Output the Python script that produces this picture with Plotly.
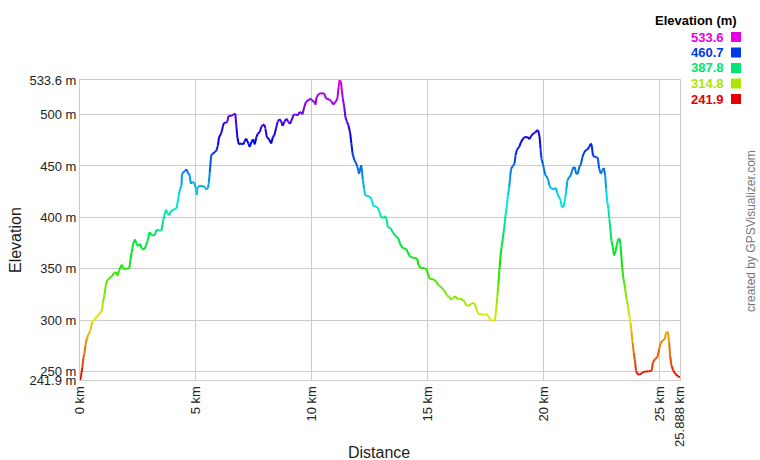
import colorsys
import plotly.graph_objects as go

# ---- data ----
distance_km = [
    0.00, 0.04, 0.10, 0.15, 0.19, 0.23, 0.29, 0.36, 0.45, 0.52, 0.62, 0.79, 0.90, 0.96, 0.99,
    1.05, 1.12, 1.19, 1.29, 1.38, 1.48, 1.55, 1.62, 1.69, 1.80, 1.88, 2.02, 2.13, 2.17, 2.23,
    2.29, 2.37, 2.44, 2.51, 2.59, 2.67, 2.77, 2.84, 2.92, 3.00, 3.10, 3.23, 3.30, 3.42, 3.52,
    3.59, 3.64, 3.71, 3.78, 3.85, 3.92, 4.07, 4.17, 4.20, 4.26, 4.32, 4.38, 4.40, 4.52, 4.60,
    4.64, 4.73, 4.78, 4.85, 4.93, 5.00, 5.04, 5.06, 5.11, 5.26, 5.40, 5.45, 5.52, 5.56, 5.60,
    5.66, 5.73, 5.82, 5.89, 5.95, 6.00, 6.09, 6.16, 6.21, 6.31, 6.36, 6.41, 6.53, 6.61, 6.70,
    6.75, 6.79, 6.85, 6.95, 7.05, 7.10, 7.17, 7.27, 7.32, 7.40, 7.47, 7.54, 7.61, 7.67, 7.76,
    7.82, 7.88, 7.95, 8.00, 8.06, 8.14, 8.25, 8.32, 8.39, 8.46, 8.53, 8.60, 8.68, 8.74, 8.82,
    8.90, 8.99, 9.06, 9.13, 9.22, 9.30, 9.40, 9.48, 9.58, 9.60, 9.68, 9.75, 9.86, 9.94, 10.00,
    10.12, 10.16, 10.21, 10.30, 10.40, 10.53, 10.62, 10.76, 10.84, 10.93, 11.02, 11.10, 11.16,
    11.20, 11.26, 11.30, 11.34, 11.40, 11.45, 11.52, 11.58, 11.65, 11.71, 11.76, 11.84, 11.91,
    11.97, 12.04, 12.13, 12.17, 12.20, 12.26, 12.30, 12.43, 12.53, 12.59, 12.66, 12.78, 12.86,
    12.92, 12.99, 13.09, 13.17, 13.23, 13.28, 13.40, 13.49, 13.58, 13.66, 13.75, 13.81, 13.92,
    14.07, 14.14, 14.21, 14.28, 14.45, 14.55, 14.61, 14.69, 14.86, 14.96, 15.03, 15.09, 15.26,
    15.37, 15.45, 15.55, 15.65, 15.76, 15.84, 15.95, 16.00, 16.09, 16.18, 16.27, 16.37, 16.53,
    16.60, 16.67, 16.79, 16.89, 17.00, 17.07, 17.13, 17.20, 17.32, 17.42, 17.54, 17.61, 17.68,
    17.78, 17.90, 17.94, 17.97, 18.01, 18.05, 18.10, 18.14, 18.19, 18.24, 18.29, 18.33, 18.37,
    18.42, 18.46, 18.52, 18.56, 18.60, 18.68, 18.75, 18.79, 18.86, 18.95, 19.03, 19.12, 19.19,
    19.32, 19.38, 19.47, 19.55, 19.64, 19.73, 19.77, 19.83, 19.87, 19.91, 19.97, 20.07, 20.19,
    20.25, 20.33, 20.43, 20.53, 20.59, 20.65, 20.72, 20.79, 20.86, 20.93, 20.98, 21.03, 21.11,
    21.18, 21.25, 21.34, 21.41, 21.48, 21.54, 21.61, 21.68, 21.75, 21.82, 21.90, 21.97, 22.04,
    22.08, 22.13, 22.20, 22.28, 22.34, 22.40, 22.47, 22.54, 22.60, 22.66, 22.70, 22.74, 22.80,
    22.84, 22.89, 22.93, 22.99, 23.04, 23.12, 23.17, 23.23, 23.29, 23.32, 23.36, 23.39, 23.45,
    23.52, 23.58, 23.64, 23.69, 23.75, 23.79, 23.84, 23.89, 23.95, 23.99, 24.05, 24.14, 24.24,
    24.34, 24.53, 24.67, 24.72, 24.81, 24.91, 24.99, 25.04, 25.13, 25.24, 25.26, 25.32, 25.37,
    25.42, 25.46, 25.52, 25.60, 25.69, 25.80, 25.888,
]
elevation_m = [
    241.9, 245.0, 254.2, 264.0, 267.0, 275.0, 282.0, 286.0, 290.0, 298.0, 300.7, 305.0, 307.8, 311.0, 317.5,
    324.0, 335.0, 339.6, 341.0, 343.0, 346.0, 346.8, 343.5, 348.4, 354.0, 350.0, 350.0, 350.6, 358.0, 366.0,
    374.0, 378.6, 374.4, 372.0, 374.4, 369.5, 368.8, 372.0, 377.6, 385.7, 382.5, 383.0, 388.0, 387.3, 387.3,
    397.0, 402.0, 407.5, 403.6, 402.0, 406.0, 407.8, 409.0, 413.0, 421.4, 428.0, 431.0, 442.5, 445.0, 446.8,
    444.0, 441.0, 432.8, 434.4, 433.8, 428.0, 422.0, 428.0, 430.2, 430.5, 429.5, 427.0, 428.6, 433.8, 444.0,
    460.4, 462.0, 463.6, 465.0, 470.0, 478.0, 481.5, 488.0, 492.0, 492.0, 493.5, 498.7, 498.7, 500.0, 501.0,
    488.0, 478.0, 471.0, 471.8, 471.0, 474.0, 476.6, 471.8, 468.5, 473.4, 476.0, 471.0, 478.0, 481.5, 483.0,
    488.0, 489.6, 490.3, 486.4, 478.0, 476.6, 471.8, 478.0, 480.0, 487.0, 493.0, 495.5, 493.5, 489.0, 493.0,
    496.0, 493.0, 491.0, 494.5, 500.0, 500.0, 499.4, 502.6, 501.0, 500.3, 507.5, 512.3, 514.0, 515.6, 514.0,
    512.0, 509.7, 517.0, 519.8, 520.8, 520.5, 515.6, 514.6, 513.0, 509.7, 512.3, 515.0, 527.0,
    533.6, 532.0, 522.7, 515.6, 507.5, 497.7, 493.0, 489.6, 483.0, 471.8, 462.0, 455.5, 453.0,
    449.0, 442.5, 450.6, 444.2, 437.0, 428.0, 421.4, 420.8, 419.8, 416.6, 411.0, 410.7, 409.0,
    405.0, 400.3, 399.4, 401.3, 397.7, 390.6, 389.6, 385.7, 383.0, 380.8, 379.2, 374.4, 370.1,
    369.5, 366.2, 363.0, 361.4, 360.4, 359.8, 353.2, 351.0, 350.6, 349.4, 343.5, 340.3, 339.6,
    337.7, 334.4, 332.8, 330.5, 327.3, 324.0, 322.4, 320.0, 321.4, 323.4, 320.8, 320.8, 320.0,
    317.5, 314.3, 314.3, 316.2, 316.9, 313.6, 309.4, 306.0, 306.0, 305.0, 306.0, 304.5, 301.3,
    299.4, 299.7, 307.0, 314.3, 324.0, 335.4, 350.0, 361.4, 371.0, 379.0, 387.3, 395.4, 403.6,
    411.7, 421.4, 429.5, 439.3, 447.4, 450.0, 452.3, 460.4, 466.2, 468.5, 473.4, 476.6, 478.2,
    478.0, 476.0, 479.2, 481.5, 482.5, 484.7, 484.7, 478.2, 467.0, 457.1, 452.3, 441.6, 437.7,
    431.0, 428.0, 427.3, 428.6, 424.0, 419.8, 418.2, 410.0, 410.0, 418.2, 426.3, 436.0, 439.3,
    441.0, 447.4, 449.0, 442.5, 442.5, 449.0, 451.3, 458.8, 463.0, 465.3, 466.2, 468.5, 471.8,
    470.0, 460.4, 458.8, 458.8, 457.8, 447.4, 442.5, 445.8, 448.0, 441.0, 428.0, 416.6, 408.4,
    398.7, 385.7, 377.6, 371.0, 363.0, 367.8, 374.4, 379.2, 379.2, 372.7, 361.4, 351.6, 340.3,
    330.5, 320.8, 314.3, 306.0, 298.0, 290.0, 278.6, 268.8, 259.0, 251.0, 247.7, 247.0, 248.7,
    250.0, 250.3, 251.0, 259.0, 262.3, 264.0, 272.0, 277.0, 280.2, 281.8, 285.7, 289.0, 288.3,
    278.6, 265.6, 255.8, 251.0, 247.7, 245.5, 244.5,
]

y_tick_vals = [241.9, 250, 300, 350, 400, 450, 500, 533.6]
y_tick_text = ["241.9 m", "250 m", "300 m", "350 m", "400 m", "450 m", "500 m", "533.6 m"]
x_tick_vals = [0, 5, 10, 15, 20, 25, 25.888]
x_tick_text = ["0 km", "5 km", "10 km", "15 km", "20 km", "25 km", "25.888 km"]
legend_values = [533.6, 460.7, 387.8, 314.8, 241.9]

E_MIN, E_MAX = 241.9, 533.6
FONT = "Arial, Liberation Sans, sans-serif"
W, H = 760, 460
ML, MR, MT, MB = 80, 80, 80, 80


def elev_color(e):
    f = max(0.0, min(1.0, (e - E_MIN) / (E_MAX - E_MIN)))
    r, g, b = colorsys.hsv_to_rgb(f * 300.0 / 360.0, 1.0, 0.9)
    return "rgb(%d,%d,%d)" % (round(r * 255), round(g * 255), round(b * 255))


def px(xp, yp):
    """pixel position (from top-left) -> paper coords"""
    return (xp - ML) / (W - ML - MR), (H - yp - MB) / (H - MT - MB)


# group line segments into colour bins
NBINS = 80
bins = {}
for i in range(len(distance_km) - 1):
    em = (elevation_m[i] + elevation_m[i + 1]) / 2.0
    k = int(round((em - E_MIN) / (E_MAX - E_MIN) * NBINS))
    k = max(0, min(NBINS, k))
    xs, ys = bins.setdefault(k, ([], []))
    xs += [distance_km[i], distance_km[i + 1], None]
    ys += [elevation_m[i], elevation_m[i + 1], None]

fig = go.Figure()
for k in sorted(bins):
    xs, ys = bins[k]
    e = E_MIN + k / NBINS * (E_MAX - E_MIN)
    fig.add_trace(go.Scatter(
        x=xs, y=ys, mode="lines",
        line=dict(color=elev_color(e), width=2),
        hoverinfo="skip", showlegend=False,
    ))

fig.update_layout(
    width=W, height=H,
    margin=dict(l=ML, r=MR, t=MT, b=MB, autoexpand=False),
    paper_bgcolor="white", plot_bgcolor="white",
    font=dict(family=FONT, size=13, color="#222"),
    showlegend=False,
)
fig.update_xaxes(
    range=[0, 25.888], tickmode="array", tickvals=x_tick_vals, ticktext=x_tick_text,
    tickangle=-90, showgrid=True, gridcolor="#cccccc", gridwidth=1,
    showline=True, linecolor="#cccccc", mirror=True, zeroline=False,
    ticks="", tickfont=dict(size=13, color="#222"), automargin=False,
    title=None,
)
fig.update_yaxes(
    range=[E_MIN, E_MAX], tickmode="array", tickvals=y_tick_vals, ticktext=y_tick_text,
    showgrid=True, gridcolor="#cccccc", gridwidth=1,
    showline=True, linecolor="#cccccc", mirror=True, zeroline=False,
    ticks="", tickfont=dict(size=13, color="#222"), automargin=False,
    title=None,
)

# axis titles
ax, ay = px(379, 452)
fig.add_annotation(x=ax, y=ay, xref="paper", yref="paper", text="Distance",
                   showarrow=False, xanchor="center", yanchor="middle",
                   font=dict(size=16, color="#222"))
ax, ay = px(15, 240)
fig.add_annotation(x=ax, y=ay, xref="paper", yref="paper", text="Elevation",
                   showarrow=False, textangle=-90, xanchor="center", yanchor="middle",
                   font=dict(size=16, color="#222"))

# legend (colour key)
ax, ay = px(739, 20)
fig.add_annotation(x=ax, y=ay, xref="paper", yref="paper", text="<b>Elevation (m)</b>",
                   showarrow=False, xanchor="right", yanchor="middle",
                   font=dict(size=13, color="#000"))
for i, v in enumerate(legend_values):
    yc = 37 + i * 15.5
    c = elev_color(v)
    ax, ay = px(726, yc)
    fig.add_annotation(x=ax, y=ay, xref="paper", yref="paper", text="<b>%.1f</b>" % v,
                       showarrow=False, xanchor="right", yanchor="middle",
                       font=dict(size=13, color=c))
    x0, y0 = px(731, yc + 5)
    x1, y1 = px(741, yc - 5)
    fig.add_shape(type="rect", xref="paper", yref="paper", x0=x0, x1=x1, y0=y0, y1=y1,
                  fillcolor=c, line=dict(width=0))

ax, ay = px(751, 231)
fig.add_annotation(x=ax, y=ay, xref="paper", yref="paper",
                   text="created by GPSVisualizer.com", showarrow=False,
                   textangle=-90, xanchor="center", yanchor="middle",
                   font=dict(size=12, color="#777"))

fig.write_html(
    "out.html",
    config={"displayModeBar": False},
    post_script="document.body.style.margin='0';document.body.style.padding='0';"
                "document.documentElement.style.overflow='hidden';",
)
